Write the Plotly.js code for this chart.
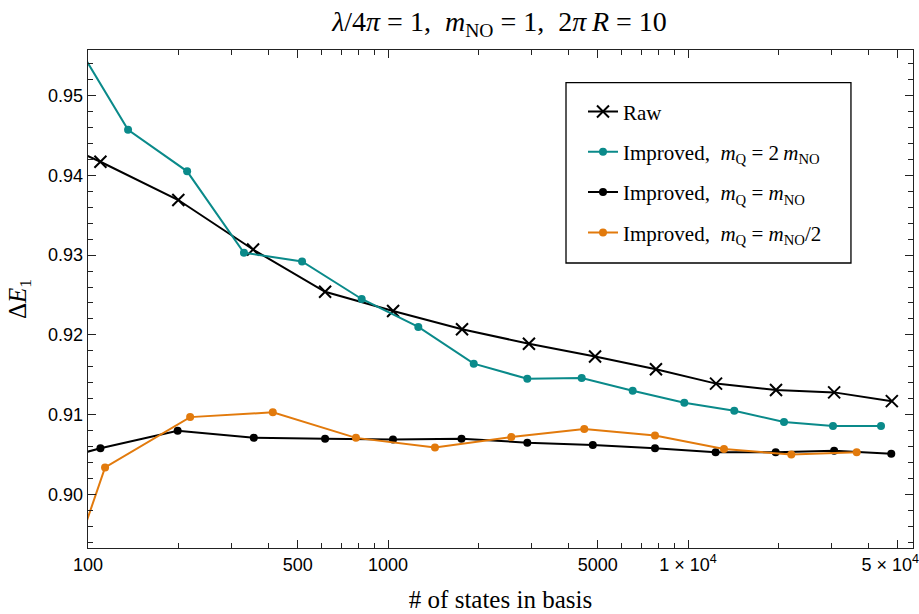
<!DOCTYPE html>
<html>
<head>
<meta charset="utf-8">
<script src="https://cdn.plot.ly/plotly-3.0.1.min.js"></script>
<style>html,body{margin:0;padding:0;background:#fff;}#chart{width:919px;height:614px;}</style>
</head>
<body>
<div id="chart"></div>
<script>
// ---- data ----
const rawX = [90, 110, 200, 355, 617, 1040, 1765, 2950, 4900, 7820, 12400, 19650, 30700, 47800];
const rawY = [0.9432, 0.9417, 0.9369, 0.9307, 0.9254, 0.9230, 0.9207, 0.9189, 0.9173, 0.9157, 0.9139, 0.9131, 0.9128, 0.9117];

const imp2X = [90, 136, 214, 331, 517, 817, 1262, 1931, 2913, 4422, 6541, 9721, 14265, 20893, 30430, 43990];
const imp2Y = [0.9569, 0.9457, 0.9405, 0.9303, 0.9292, 0.9245, 0.9210, 0.9164, 0.9145, 0.9146, 0.9130, 0.9115, 0.9105, 0.9091, 0.9086, 0.9086];

const imp1X = [90, 110, 199, 357, 617, 1039, 1758, 2913, 4816, 7762, 12360, 19600, 30700, 47600];
const imp1Y = [0.9049, 0.9058, 0.9080, 0.9071, 0.9070, 0.9069, 0.9070, 0.9065, 0.9062, 0.9058, 0.9053, 0.9053, 0.9055, 0.9051];

const impHX = [90, 114, 219, 413, 782, 1434, 2576, 4510, 7762, 13180, 22100, 36500];
const impHY = [0.8921, 0.9034, 0.9097, 0.9103, 0.9071, 0.9059, 0.9072, 0.9082, 0.9074, 0.9057, 0.9050, 0.9053];

const xMajorVals = [100, 500, 1000, 5000, 10000, 50000];
const xMajorText = ["100", "500", "1000", "5000", "1 × 10<sup>4</sup>", "5 × 10<sup>4</sup>\u00A0\u00A0\u00A0"];
const xMinorVals = [200, 300, 400, 600, 700, 800, 900, 2000, 3000, 4000, 6000, 7000, 8000, 9000, 20000, 30000, 40000];
const yMajorVals = [0.90, 0.91, 0.92, 0.93, 0.94, 0.95];
const yMinorVals = [0.894, 0.896, 0.898, 0.902, 0.904, 0.906, 0.908, 0.912, 0.914, 0.916, 0.918, 0.922, 0.924, 0.926, 0.928, 0.932, 0.934, 0.936, 0.938, 0.942, 0.944, 0.946, 0.948, 0.952, 0.954];

const seriesNames = ["Raw",
  "Improved,\u2002<i>m</i><sub>Q</sub> = 2\u2009<i>m</i><sub>NO</sub>",
  "Improved,\u2002<i>m</i><sub>Q</sub> = <i>m</i><sub>NO</sub>",
  "Improved,\u2002<i>m</i><sub>Q</sub> = <i>m</i><sub>NO</sub>/2"];

// ---- styles ----
const TEAL = "#0a8a8a", ORANGE = "#e27a0c", BLACK = "#000000";
const serif = "Liberation Serif, Times New Roman, serif";
const sans = "Liberation Sans, Arial, sans-serif";

const traces = [
  {x: rawX, y: rawY, name: seriesNames[0], legendgroup: "a", mode: "lines+markers",
   line: {color: BLACK, width: 2}, marker: {symbol: "x-thin", size: 12, line: {color: BLACK, width: 2}, color: BLACK}},
  {x: imp2X, y: imp2Y, name: seriesNames[1], legendgroup: "b", mode: "lines+markers",
   line: {color: TEAL, width: 2}, marker: {symbol: "circle", size: 8, color: TEAL}},
  {x: imp1X, y: imp1Y, name: seriesNames[2], legendgroup: "c", mode: "lines+markers",
   line: {color: BLACK, width: 2}, marker: {symbol: "circle", size: 8, color: BLACK}},
  {x: impHX, y: impHY, name: seriesNames[3], legendgroup: "d", mode: "lines+markers",
   line: {color: ORANGE, width: 2}, marker: {symbol: "circle", size: 8, color: ORANGE}}
];
traces.forEach(t => { t.type = "scatter"; t.cliponaxis = true; });

const layout = {
  width: 919, height: 614,
  margin: {l: 88, r: 6, t: 50, b: 66},
  paper_bgcolor: "#fff", plot_bgcolor: "#fff",
  showlegend: true,
  title: {text: "<i>λ</i>/4<i>π</i> = 1,\u2002<i>m</i><sub>NO</sub> = 1,\u20022<i>π</i>\u2009<i>R</i> = 10",
          font: {family: serif, size: 28, color: "#000"}, x: 0.5435, xanchor: "center", y: 0.965, yanchor: "middle"},
  xaxis: {
    type: "log", range: [2, 4.75],
    showline: true, linecolor: "#222", linewidth: 1.3, mirror: "allticks",
    ticks: "inside", ticklen: 8, tickwidth: 1, tickcolor: "#222",
    tickmode: "array", tickvals: xMajorVals, ticktext: xMajorText,
    tickfont: {family: sans, size: 18, color: "#000"}, ticklabeloverflow: "allow",
    minor: {tickmode: "array", tickvals: xMinorVals, ticks: "inside", ticklen: 5, tickwidth: 1, tickcolor: "#222"},
    showgrid: false, zeroline: false,
    title: {text: "# of states in basis", font: {family: serif, size: 25, color: "#000"}, standoff: 16}
  },
  yaxis: {
    range: [0.8933, 0.9557],
    showline: true, linecolor: "#222", linewidth: 1.3, mirror: "allticks",
    ticks: "inside", ticklen: 8, tickwidth: 1, tickcolor: "#222",
    tickmode: "array", tickvals: yMajorVals, tickformat: ".2f",
    tickfont: {family: sans, size: 18, color: "#000"},
    minor: {tickmode: "array", tickvals: yMinorVals, ticks: "inside", ticklen: 5, tickwidth: 1, tickcolor: "#222"},
    showgrid: false, zeroline: false,
    title: {text: "Δ<i>E</i><sub>1</sub>", font: {family: serif, size: 25, color: "#000"}, standoff: 14}
  },
  legend: {
    x: 0.6, xanchor: "left", y: 0.917, yanchor: "top",
    bgcolor: "rgba(0,0,0,0)", borderwidth: 0,
    font: {family: serif, size: 21, color: "#000"},
    traceorder: "grouped", tracegroupgap: 10, itemwidth: 30
  },
  shapes: [
    {type: "rect", xref: "paper", yref: "paper", x0: 0.5794, x1: 0.9248, y0: 0.5723, y1: 0.9343,
     line: {color: "#000", width: 1.3}, fillcolor: "#fff", layer: "below"}
  ]
};

Plotly.newPlot("chart", traces, layout, {displayModeBar: false, staticPlot: true});
</script>
</body>
</html>
